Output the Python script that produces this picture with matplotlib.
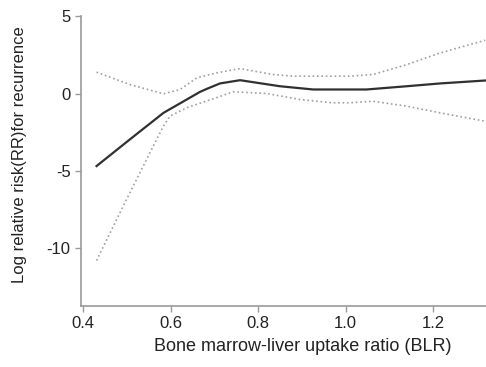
import matplotlib
matplotlib.use("Agg")
import matplotlib.pyplot as plt

# values
blr = [0.431, 0.507, 0.584, 0.637, 0.667, 0.683, 0.713, 0.759, 0.85, 0.926,
       1.01, 1.048, 1.14, 1.216, 1.319]
log_rr = [-4.69, -2.97, -1.25, -0.39, 0.1, 0.3, 0.65, 0.86, 0.47, 0.26,
          0.26, 0.26, 0.47, 0.65, 0.84]

upper_x = [0.431, 0.507, 0.584, 0.622, 0.66, 0.705, 0.759, 0.834, 0.88, 1.01,
           1.063, 1.14, 1.216, 1.319]
upper_y = [1.38, 0.58, -0.02, 0.26, 1.01, 1.33, 1.61, 1.23, 1.12, 1.12,
           1.23, 1.87, 2.62, 3.44]

lower_x = [0.431, 0.492, 0.553, 0.584, 0.599, 0.637, 0.697, 0.743, 0.82, 0.896,
           0.971, 1.01, 1.063, 1.14, 1.216, 1.319]
lower_y = [-10.8, -7.27, -3.83, -2.1, -1.46, -0.92, -0.35, 0.11, 0.0, -0.39,
           -0.6, -0.6, -0.5, -0.82, -1.25, -1.79]

xticks = [0.4, 0.6, 0.8, 1.0, 1.2]
yticks = [5, 0, -5, -10]

plt.rcParams["font.family"] = ["Liberation Sans", "DejaVu Sans"]
plt.rcParams["axes.unicode_minus"] = False

fig = plt.figure(figsize=(4.86, 3.67), dpi=100)
ax = fig.add_axes([0.1667, 0.166, 0.8333, 0.790])

ax.plot(upper_x, upper_y, color="#a0a0a0", linestyle=":", linewidth=1.2)
ax.plot(lower_x, lower_y, color="#a0a0a0", linestyle=":", linewidth=1.2)
ax.plot(blr, log_rr, color="#303030", linewidth=1.6)

ax.set_xlim(0.3955, 1.321)
ax.set_ylim(-13.74, 5)
ax.set_xticks(xticks)
ax.set_xticklabels([f"{t:.1f}" for t in xticks])
ax.set_yticks(yticks)

for side in ["top", "right"]:
    ax.spines[side].set_visible(False)
for side in ["left", "bottom"]:
    ax.spines[side].set_color("#999999")
    ax.spines[side].set_linewidth(1.2)
ax.tick_params(colors="#999999", labelcolor="#222222", labelsize=12, length=4, width=1)

fig.text(0.041, 0.578, "Log relative risk(RR)for recurrence", rotation=90,
         ha="center", va="center", fontsize=12, color="#222222")
fig.text(0.622, 0.055, "Bone marrow-liver uptake ratio (BLR)",
         ha="center", va="center", fontsize=13, color="#222222")

fig.savefig("out.png", dpi=100)
